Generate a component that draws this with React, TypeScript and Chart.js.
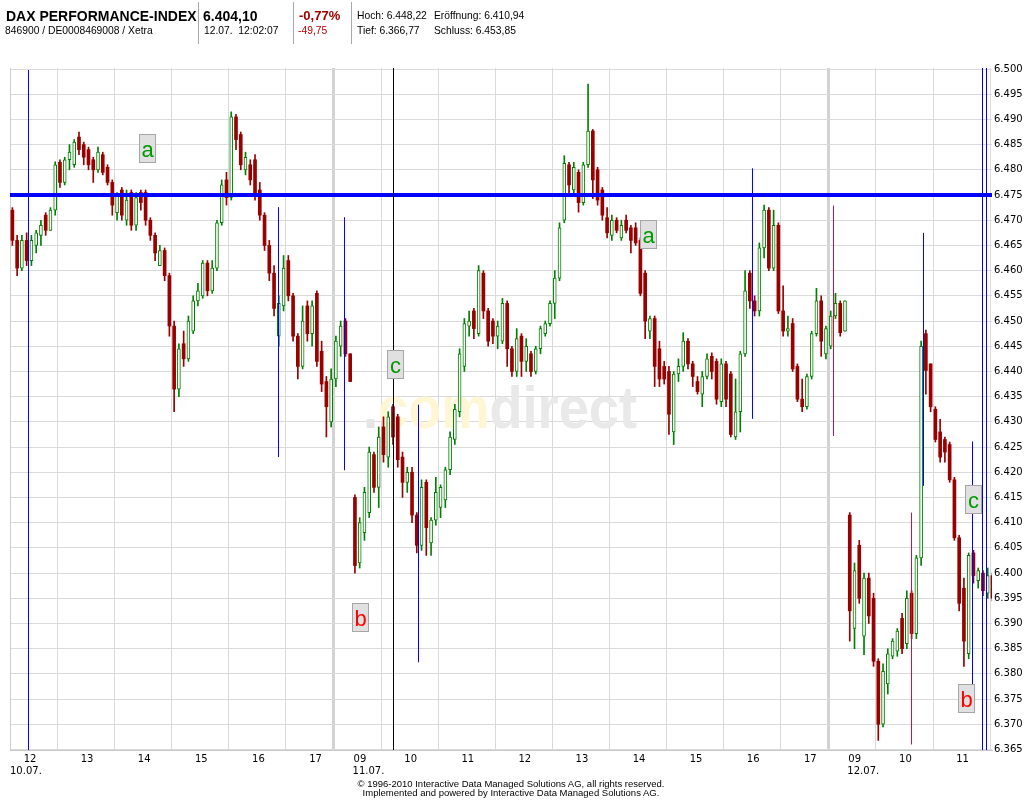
import React, { useEffect, useRef } from 'react';
import { Chart, registerables } from 'chart.js';

Chart.register(...registerables);

// ---- Candle data (5-minute bars, index points) ----
// Day 1 (10.07.), from 11:40
const d1Open = [6472,6466,6460.5,6466,6462,6465,6467,6471,6468,6472,6481.5,6477.5,6482,6481,6486.5,6485,6484,6482,6480,6483,6480.5,6477.5,6471.5,6476,6470,6475.5,6469,6475.5,6475.5,6470,6467,6461,6464,6459,6449,6436.5,6445.5,6442.5,6448,6454,6455,6461.5,6456,6460.5,6469.5,6478,6474.5,6490.5,6487,6480,6481,6482,6476,6471,6465,6459.5,6447,6453,6462,6455,6447,6441,6453,6447.5,6455.5,6444,6438,6430,6438.5,6445,6450,6443.5];
const d1High = [6472.5,6467,6467,6467.5,6467,6468,6470,6471.5,6472.5,6481.6,6482,6482.5,6485,6486,6487.5,6485.5,6484.5,6482.5,6484.5,6483.5,6481,6478,6475.5,6476.5,6476,6476,6475.5,6476,6476,6470.5,6467.5,6465,6464.5,6459.5,6450,6445.5,6448,6451,6455,6457.5,6462,6462,6462,6470,6478,6479.5,6491.5,6491,6487.5,6483.5,6482,6483,6477.5,6471.5,6466,6461,6455,6463,6463,6455.5,6447.5,6453,6454,6454,6456,6446,6439,6440.5,6447,6450,6450.5,6443.5];
const d1Low = [6465,6459,6460,6461,6461,6463.5,6465,6467,6468,6471,6476.5,6477,6480,6480.5,6483,6481,6480,6477.5,6479.5,6479,6477,6471,6470,6470,6469,6468,6468,6472,6469,6466,6462,6461,6458,6447,6432,6435,6441,6442,6447.5,6453,6454.5,6455,6455.5,6460,6469,6473,6474,6484,6480,6479,6477,6474,6470,6464,6458,6451,6445,6452,6454,6446,6438.5,6440.5,6446,6445,6441,6436,6427,6429,6437,6443,6443,6438];
const d1Close = [6466,6460.5,6466,6462,6466,6467.5,6469,6468,6472,6481,6477.5,6482,6483.5,6485.5,6484,6482.5,6481,6480,6483.5,6479.5,6477.5,6473,6475,6471,6474,6469,6474.5,6473.5,6470,6467,6463.5,6464,6459,6449,6436.5,6444.5,6442.5,6450,6454,6456,6461.5,6456,6460.5,6469.5,6477,6474.5,6490.5,6486,6481,6482.5,6478,6475,6471,6465,6459.5,6452.5,6453.5,6460.5,6455,6447,6441,6450,6447.5,6453,6442,6437.5,6433,6438.5,6446,6449,6443.5,6438];

// Day 2 (11.07.), from 09:00
const d2Open = [6415,6402,6408,6412,6423.5,6417,6429,6423,6433,6431,6423,6418,6420,6411.5,6405.5,6418,6406,6410.5,6413,6414.5,6420.5,6426.5,6432,6441,6449,6452,6447.5,6459.5,6452,6450,6447,6446,6453.5,6444.5,6440,6447,6442,6443.5,6440,6444.5,6447.5,6449.5,6453.5,6458.5,6470,6481,6476,6479.5,6473.5,6481,6487.7,6480,6476,6470.5,6467,6470,6466.5,6470,6468.5,6468.5,6466,6459.5,6448,6450.5,6444.5,6441,6440,6428,6439.5,6441,6446,6441.5,6438,6435.5,6439,6443,6442,6434,6441.5,6439.5,6427,6432,6443.5,6459.5,6454,6452,6464.5,6472,6460.5,6469,6452,6448,6449.5,6441,6434.5,6433,6439,6447.5,6454,6443.5,6445,6451,6453.5,6448];
const d2High = [6415.5,6411,6417,6425,6424,6429,6431,6432,6433.5,6431.5,6424,6421,6421,6412,6418.5,6418.5,6411,6419,6417.5,6421,6428,6433.5,6444.5,6450.5,6452,6452.5,6461,6460,6452.5,6450.5,6450,6454.5,6454,6445,6448.5,6447.5,6446.5,6444,6445,6449,6450,6454,6460,6469.5,6482.8,6481.5,6481.5,6480,6481.5,6497,6488,6480.5,6476.5,6472.5,6471,6470.5,6470,6471,6469,6469.5,6466.5,6460,6451,6451,6446,6442,6441,6440,6442.5,6447.7,6446.5,6442,6439,6440,6443.5,6443.7,6442.5,6442.5,6442,6440,6438.5,6444,6460,6460,6455,6465.5,6473,6472.5,6472,6469.5,6457,6451,6450.5,6441.5,6438.5,6439.5,6448,6456.5,6455,6449,6452,6455.5,6454,6454];
const d2Low = [6400,6401,6406.5,6411,6416,6413,6422,6421,6425.5,6421,6415,6416,6410,6404,6404.5,6403.5,6403.5,6409.5,6411,6413,6419.5,6425.5,6431,6440,6447,6446.5,6447,6450.5,6445,6445.5,6444.5,6445.5,6441,6439,6439,6439,6440,6439,6439.5,6443.5,6447,6449,6450.5,6458,6469.5,6475,6475,6471.6,6473,6480.5,6474.3,6473,6470,6466.5,6466,6467.5,6466,6467.5,6463.5,6465,6455,6446.5,6446.5,6437,6437,6437.5,6427.5,6425.5,6438,6440,6440.5,6437,6435.5,6433,6438.5,6438.5,6433.5,6433,6433,6427,6426.5,6428,6443,6452.5,6451,6451,6462.5,6460,6460,6451.5,6447,6447,6440,6434,6432,6432.5,6438.5,6447,6443,6442.5,6444.5,6450.5,6447,6448];
const d2Close = [6401.5,6410,6416,6424,6417,6427,6423.5,6431,6427,6422.5,6418,6420,6411.5,6405.5,6417,6409,6410.5,6416,6417,6420.5,6427,6432.5,6443.5,6449.5,6450,6448.5,6460,6452,6446,6447,6449,6453.5,6444.5,6440,6446.5,6442,6445,6440,6444.5,6448.5,6449.5,6453.5,6458.5,6468.5,6481.3,6477,6480.5,6473.5,6481,6487.7,6478,6474,6471,6467.5,6470,6468,6469,6468,6466,6465.5,6455.5,6450,6450.5,6441,6438.5,6438.5,6431.5,6439.5,6441,6446,6441.5,6439,6436,6439,6442.5,6440,6434.5,6441.5,6434.5,6427.5,6432,6443.5,6456,6454,6452,6464.5,6472,6460.5,6469,6452,6448,6448.5,6440.5,6434.5,6433,6439,6447.5,6454,6446,6448.5,6451,6453.5,6447.7,6454];

// Day 3 (12.07.), from 09:00
const d3Open = [6411.5,6389,6405.5,6387.5,6399,6395,6382.5,6370,6378,6383.5,6384.5,6391,6386,6396,6388,6403,6447.5,6441.5,6432.5,6428,6426.5,6425.5,6418.5,6407,6397,6384,6404,6398.5,6400,6396,6399.5];
const d3High = [6412,6402,6406.5,6400,6400,6396,6383,6382,6385,6387,6389,6392,6396.5,6396.5,6403.5,6446,6448.2,6441.5,6433,6430.5,6427,6426,6419,6407.5,6399,6404,6404.5,6401,6400.5,6401,6400];
const d3Low = [6386.5,6385,6394,6383.8,6390,6381.5,6366.8,6369.5,6376,6383,6383.5,6384,6385,6387,6387,6401.5,6435.5,6432,6426,6422,6422,6418,6406.5,6392.5,6381.5,6383,6398,6397,6395.5,6395,6394.5];
const d3Close = [6392.5,6400.5,6395,6399,6391.5,6382.5,6370,6380.5,6384,6386.5,6388.5,6385,6395,6388,6403,6445,6440.2,6433,6426.5,6423,6424,6418.5,6407,6394,6386.5,6403.5,6399.5,6400.5,6396.5,6399.5,6395];

// ---- Axis (x in trading minutes since 09:00 of day 1, each session = 520 min) ----
const sessionOffsets = [0, 520, 1040];
const sessionStartMinutes = [160, 0, 0];
const barMinutes = 5;
const xMin = 160;
const xMax = 1192;
const hourTickValues = [180, 240, 300, 360, 420, 480, 520, 580, 640, 700, 760, 820, 880, 940, 1000, 1040, 1100, 1160];
const hourTickLabels = ['12', '13', '14', '15', '16', '17', '09', '10', '11', '12', '13', '14', '15', '16', '17', '09', '10', '11'];
const separatorValues = [520, 1040];
const dayLabelValues = [160, 520, 1040];
const dayLabels = ['10.07.', '11.07.', '12.07.'];
const yMin = 6364.9;
const yMax = 6500.2;
const yTickValues = [6365, 6370, 6375, 6380, 6385, 6390, 6395, 6400, 6405, 6410, 6415, 6420, 6425, 6430, 6435, 6440, 6445, 6450, 6455, 6460, 6465, 6470, 6475, 6480, 6485, 6490, 6495, 6500];

// ---- Drawn annotations ----
const trendLevel = 6475;
const vLineX = [179.44, 442.17, 511.53, 589.3, 940.3, 1120.01, 1171.51, 1182.02, 1186.22, 563.03, 1107.4, 1025.43];
const vLineLow = [6364.9, 6423.0, 6420.4, 6382.3, 6430.6, 6417.3, 6377.8, 6364.9, 6364.9, 6364.9, 6366, 6427.2];
const vLineHigh = [6499.8, 6472.6, 6470.6, 6433.4, 6480.3, 6467.5, 6426.1, 6500.2, 6500.2, 6500.2, 6412, 6472.9];
const vLineColors = ['#0000ff', '#0000ff', '#0000ff', '#0000ff', '#0000ff', '#0000ff', '#0000ff', '#0000ff', '#0000ff', '#000000', '#d0103c', '#d0103c'];

const markerLetters = ['a', 'a', 'c', 'c', 'b', 'b'];
const markerX = [303.5, 830.1, 564.7, 1172.2, 527.3, 1164.8];
const markerY = [6484.4, 6467.3, 6441.5, 6414.7, 6391.3, 6375.2];
const markerColors = ['#009900', '#009900', '#009900', '#009900', '#ff0000', '#ff0000'];

const GREEN = '#008000';
const RED = '#990000';
const GRID = '#dadada';
const AXIS_FONT = '"DejaVu Sans", Verdana, sans-serif';

type Candle = { m: number; o: number; h: number; l: number; c: number; up: boolean };

function buildCandles(): Candle[] {
  const sets = [
    [d1Open, d1High, d1Low, d1Close],
    [d2Open, d2High, d2Low, d2Close],
    [d3Open, d3High, d3Low, d3Close],
  ];
  const out: Candle[] = [];
  sets.forEach(([o, h, l, c], s) => {
    for (let i = 0; i < o.length; i++) {
      out.push({
        m: sessionOffsets[s] + sessionStartMinutes[s] + barMinutes * i + barMinutes / 2,
        o: o[i], h: h[i], l: l[i], c: c[i], up: c[i] >= o[i],
      });
    }
  });
  return out;
}

const overlayPlugin = {
  id: 'overlay',
  beforeDatasetsDraw(chart: any) {
    const { ctx, chartArea: a } = chart;
    ctx.save();
    ctx.strokeStyle = '#cfcfcf';
    ctx.lineWidth = 1;
    ctx.beginPath();
    ctx.moveTo(a.left + 0.5, a.top);
    ctx.lineTo(a.left + 0.5, a.bottom);
    ctx.stroke();
    // watermark
    ctx.font = 'bold 60px "Liberation Sans", Arial, sans-serif';
    ctx.textBaseline = 'alphabetic';
    ctx.textAlign = 'left';
    const parts: [string, string][] = [['.', '#e4e4e4'], ['com', '#fff6d6'], ['direct', '#e9e9e9']];
    const total = ctx.measureText('.comdirect').width;
    ctx.translate(363, 428);
    ctx.scale(274 / total, 1);
    let x = 0;
    for (const [t, col] of parts) {
      ctx.fillStyle = col;
      ctx.fillText(t, x, 0);
      x += ctx.measureText(t).width;
    }
    ctx.restore();
  },
  afterDatasetsDraw(chart: any) {
    const { ctx } = chart;
    const xs = chart.scales.x;
    const ys = chart.scales.y;
    ctx.save();
    ctx.font = '22px "Liberation Sans", Arial, sans-serif';
    ctx.textAlign = 'center';
    ctx.textBaseline = 'alphabetic';
    for (let i = 0; i < markerLetters.length; i++) {
      const cx = xs.getPixelForValue(markerX[i]);
      const cy = ys.getPixelForValue(markerY[i]);
      const w = 16, h = 28;
      const left = Math.round(cx - w / 2) + 0.5;
      const top = Math.round(cy - h / 2) + 0.5;
      ctx.fillStyle = '#e0e0e0';
      ctx.fillRect(left, top, w, h);
      ctx.strokeStyle = '#a6a6a6';
      ctx.lineWidth = 1;
      ctx.strokeRect(left, top, w, h);
      ctx.fillStyle = markerColors[i];
      ctx.fillText(markerLetters[i], left + w / 2, top + 22);
    }
    ctx.restore();
  },
  afterDraw(chart: any) {
    const { ctx, chartArea: a } = chart;
    const xs = chart.scales.x;
    ctx.save();
    ctx.font = '10px ' + AXIS_FONT;
    ctx.fillStyle = '#000';
    ctx.textBaseline = 'alphabetic';
    for (let i = 0; i < hourTickValues.length; i++) {
      const px = xs.getPixelForValue(hourTickValues[i]);
      if (separatorValues.includes(hourTickValues[i])) {
        ctx.textAlign = 'left';
        ctx.fillText(hourTickLabels[i], px + 1, a.bottom + 12);
      } else {
        ctx.textAlign = 'center';
        ctx.fillText(hourTickLabels[i], px + 1, a.bottom + 12);
      }
    }
    ctx.textAlign = 'left';
    for (let i = 0; i < dayLabels.length; i++) {
      const px = xs.getPixelForValue(dayLabelValues[i]);
      ctx.fillText(dayLabels[i], px, a.bottom + 23.5);
    }
    ctx.restore();
  },
};

export default function App() {
  const ref = useRef<HTMLCanvasElement>(null);

  useEffect(() => {
    const canvas = ref.current;
    if (!canvas) return;
    const candles = buildCandles();

    const lineDatasets: any[] = vLineX.map((m, i) => ({
      type: 'line',
      data: [{ x: m, y: vLineLow[i] }, { x: m, y: vLineHigh[i] }],
      borderColor: vLineColors[i],
      borderWidth: 1,
      pointRadius: 0,
      fill: false,
      order: 0,
    }));
    lineDatasets.push({
      type: 'line',
      data: [{ x: xMin, y: trendLevel }, { x: xMax, y: trendLevel }],
      borderColor: '#0000ff',
      borderWidth: 4,
      pointRadius: 0,
      fill: false,
      order: 0,
    });

    const chart = new Chart(canvas, {
      type: 'bar',
      data: {
        datasets: [
          {
            type: 'bar',
            data: candles.map((c) => ({ x: c.m, y: [c.l, c.h] })) as any,
            backgroundColor: candles.map((c) => (c.up ? GREEN : RED)),
            borderWidth: 0,
            barThickness: 1,
            grouped: false,
            order: 2,
          } as any,
          {
            type: 'bar',
            data: candles.map((c) => ({ x: c.m, y: [c.o, c.c] })) as any,
            backgroundColor: candles.map((c) => (c.up ? '#ffffff' : RED)),
            borderColor: candles.map((c) => (c.up ? GREEN : RED)),
            borderWidth: candles.map((c) => (c.up ? 1 : 0)),
            borderSkipped: false,
            barThickness: 3,
            grouped: false,
            order: 1,
          } as any,
          ...lineDatasets,
        ],
      },
      options: {
        animation: false,
        responsive: false,
        maintainAspectRatio: false,
        events: [],
        layout: { padding: { left: 10, top: 68, right: 0, bottom: 0 } },
        plugins: { legend: { display: false }, tooltip: { enabled: false } },
        scales: {
          x: {
            type: 'linear',
            min: xMin,
            max: xMax,
            offset: false,
            afterBuildTicks: (scale: any) => {
              scale.ticks = hourTickValues.map((v) => ({ value: v }));
            },
            afterFit: (scale: any) => {
              scale.height = 50;
            },
            ticks: { display: false },
            grid: {
              drawTicks: false,
              color: (ctx: any) => (ctx.tick && separatorValues.includes(ctx.tick.value) ? '#d2d2d2' : GRID),
              lineWidth: (ctx: any) => (ctx.tick && separatorValues.includes(ctx.tick.value) ? 3 : 1),
            },
            border: { display: true, color: '#c8c8c8', width: 1 },
          },
          y: {
            type: 'linear',
            position: 'right',
            min: yMin,
            max: yMax,
            afterBuildTicks: (scale: any) => {
              scale.ticks = yTickValues.map((v) => ({ value: v }));
            },
            afterFit: (scale: any) => {
              scale.width = 32;
            },
            ticks: {
              padding: 2,
              color: '#000',
              font: { family: AXIS_FONT, size: 10 },
              callback: (v: any) => (Number(v) / 1000).toFixed(3),
            },
            grid: { drawTicks: false, color: GRID, lineWidth: 1 },
            border: { display: false },
          },
        },
      } as any,
      plugins: [overlayPlugin],
    });
    return () => chart.destroy();
  }, []);

  const base: React.CSSProperties = {
    position: 'absolute',
    lineHeight: 1,
    whiteSpace: 'pre',
    fontFamily: '"Liberation Sans", Arial, sans-serif',
    color: '#000',
  };
  const divider: React.CSSProperties = {
    position: 'absolute', top: 2, width: 1, height: 42, background: '#a8a8a8',
  };

  return (
    <div style={{ position: 'absolute', left: 0, top: 0, width: 1024, height: 800, background: '#fff', overflow: 'hidden' }}>
      <canvas ref={ref} width={1024} height={800} style={{ position: 'absolute', left: 0, top: 0, width: 1024, height: 800 }} />
      <div style={{ ...base, left: 6, top: 8.5, fontSize: 14, fontWeight: 'bold' }}>DAX PERFORMANCE-INDEX</div>
      <div style={{ ...base, left: 5, top: 26.3, fontSize: 10.3 }}>846900 / DE0008469008 / Xetra</div>
      <div style={{ ...divider, left: 198 }} />
      <div style={{ ...base, left: 203, top: 8.5, fontSize: 14, fontWeight: 'bold' }}>6.404,10</div>
      <div style={{ ...base, left: 204, top: 26.3, fontSize: 10.3 }}>12.07.  12:02:07</div>
      <div style={{ ...divider, left: 293 }} />
      <div style={{ ...base, left: 299, top: 9, fontSize: 13, fontWeight: 'bold', color: '#a00000' }}>-0,77%</div>
      <div style={{ ...base, left: 298, top: 26.3, fontSize: 10.3, color: '#c00000' }}>-49,75</div>
      <div style={{ ...divider, left: 351 }} />
      <div style={{ ...base, left: 357, top: 11.3, fontSize: 10.3 }}>Hoch: 6.448,22</div>
      <div style={{ ...base, left: 434, top: 11.3, fontSize: 10.3 }}>Eröffnung: 6.410,94</div>
      <div style={{ ...base, left: 357, top: 26.3, fontSize: 10.3 }}>Tief: 6.366,77</div>
      <div style={{ ...base, left: 434, top: 26.3, fontSize: 10.3 }}>Schluss: 6.453,85</div>
      <div style={{ ...base, left: 0, width: 1022, top: 778.5, fontSize: 9.5, textAlign: 'center' }}>
        © 1996-2010 Interactive Data Managed Solutions AG, all rights reserved.
      </div>
      <div style={{ ...base, left: 0, width: 1022, top: 787.5, fontSize: 9.5, textAlign: 'center' }}>
        Implemented and powered by Interactive Data Managed Solutions AG.
      </div>
    </div>
  );
}
